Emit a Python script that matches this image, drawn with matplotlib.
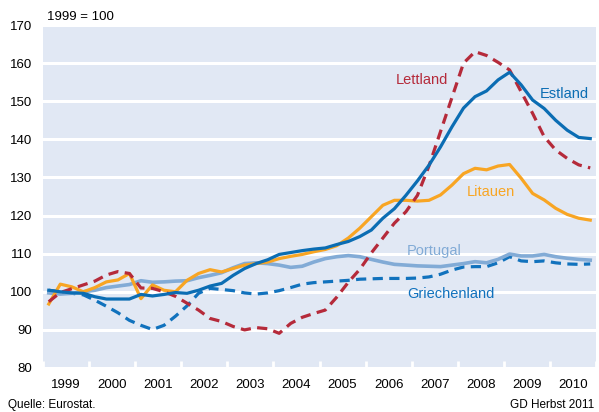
import numpy as np
import matplotlib
matplotlib.use("Agg")
import matplotlib.pyplot as plt

plt.rcParams['font.family'] = ['Liberation Sans', 'DejaVu Sans']

# quarterly index, 1999 = 100 (1999Q1 .. 2010Q4)
years = list(range(1999, 2011))

estland = [100.4, 100.0, 99.7, 99.6, 98.7, 98.1, 98.1, 98.1, 99.3, 98.9, 99.3, 99.8,
           99.6, 100.4, 101.5, 102.2, 104.3, 106.1, 107.4, 108.4, 109.8, 110.3, 110.8, 111.2,
           111.5, 112.4, 113.2, 114.5, 116.2, 119.3, 121.8, 125.3, 129.1, 133.2, 138.0, 143.3,
           148.2, 151.2, 152.7, 155.6, 157.6, 154.3, 150.3, 148.1, 145.0, 142.4, 140.5, 140.2]

lettland = [97.4, 99.8, 100.8, 101.8, 102.8, 104.4, 105.3, 104.8, 101.0, 100.9, 100.0, 98.8,
            97.0, 95.2, 93.0, 92.2, 90.9, 90.0, 90.6, 90.3, 89.1, 91.7, 93.3, 94.3,
            95.2, 98.6, 102.5, 105.9, 110.2, 114.1, 118.0, 121.0, 125.3, 133.0, 142.0, 151.0,
            160.0, 163.0, 162.0, 160.2, 158.2, 152.5, 146.8, 140.7, 137.2, 135.0, 133.3, 132.5]

litauen = [96.8, 102.0, 101.3, 100.0, 101.1, 102.6, 103.1, 104.8, 98.2, 101.8, 100.4, 100.0,
           103.0, 104.8, 105.8, 105.2, 106.1, 107.0, 107.4, 107.8, 108.7, 109.3, 109.8, 110.5,
           111.1, 112.1, 114.1, 116.7, 119.7, 122.7, 124.0, 124.0, 123.8, 124.0, 125.4, 128.0,
           131.0, 132.4, 132.0, 133.0, 133.4, 129.8, 125.8, 124.1, 121.9, 120.3, 119.3, 118.8]

portugal = [99.7, 99.4, 99.6, 100.0, 100.4, 101.1, 101.5, 101.9, 102.9, 102.5, 102.6, 102.8,
            102.9, 103.7, 104.3, 105.0, 106.3, 107.4, 107.6, 107.4, 107.0, 106.4, 106.7, 107.8,
            108.7, 109.2, 109.5, 109.2, 108.5, 107.8, 107.2, 107.0, 106.8, 106.7, 106.6, 107.0,
            107.4, 107.9, 107.6, 108.5, 109.9, 109.4, 109.4, 109.8, 109.2, 108.8, 108.5, 108.3]

griechenland = [100.4, 100.0, 99.6, 99.2, 97.8, 96.2, 94.5, 92.5, 91.2, 90.1, 91.2, 93.6,
                96.3, 99.6, 100.9, 100.6, 100.3, 99.7, 99.4, 99.7, 100.3, 101.1, 102.0, 102.4,
                102.6, 102.8, 103.0, 103.3, 103.4, 103.5, 103.5, 103.5, 103.6, 103.9, 104.6, 105.7,
                106.5, 106.6, 106.6, 107.6, 109.2, 108.1, 107.9, 108.1, 107.6, 107.3, 107.2, 107.3]

# quarter midpoints on a year axis
n = len(estland)
x = years[0] + (np.arange(n) + 0.5) / 4

c_est = '#0b6db3'
c_let = '#b52a3a'
c_lit = '#f8a523'
c_por = '#82abd6'
c_gri = '#1172bd'

fig = plt.figure(figsize=(5.99, 4.12), dpi=100)
ax = fig.add_axes([0.0718, 0.1068, 0.9232, 0.8325])
ax.set_facecolor('#e1e8f4')

ax.set_ylim(80, 170)
ax.set_xlim(years[0], years[-1] + 1)
ax.set_yticks(range(80, 171, 10))
ax.grid(axis='y', color='white', linewidth=2.2)
ax.set_axisbelow(True)
for s in ax.spines.values():
    s.set_visible(False)

lw = 2.3
ax.plot(x, griechenland, color=c_gri, lw=lw, dashes=(3.2, 2.0))
ax.plot(x, portugal, color=c_por, lw=lw + 0.3)
ax.plot(x, litauen, color=c_lit, lw=lw)
ax.plot(x, lettland, color=c_let, lw=lw, dashes=(3.2, 2.0))
ax.plot(x, estland, color=c_est, lw=lw)

# year boundaries as ticks, year names centred between them
ax.set_xticks([y for y in years] + [years[-1] + 1])
ax.set_xticklabels([])
ax.set_xticks([y + 0.5 for y in years], minor=True)
ax.set_xticklabels([str(y) for y in years], minor=True, fontsize=9.5)
ax.tick_params(axis='x', which='major', direction='in', length=5, width=2, color='white')
ax.tick_params(axis='x', which='minor', length=0, pad=8)
ax.tick_params(axis='y', length=0, labelsize=9.5, pad=8)

lab = dict(fontsize=10.5, va='center')
ax.text(2006.65, 155.6, 'Lettland', color=c_let, ha='left', **lab)
ax.text(2009.78, 151.8, 'Estland', color=c_est, ha='left', **lab)
ax.text(2008.2, 126.2, 'Litauen', color=c_lit, ha='left', **lab)
ax.text(2006.89, 110.8, 'Portugal', color=c_por, ha='left', **lab)
ax.text(2006.9, 99.4, 'Griechenland', color=c_gri, ha='left', **lab)

fig.text(0.079, 0.958, '1999 = 100', fontsize=9.5, va='center', ha='left')
fig.text(0.013, 0.018, 'Quelle: Eurostat.', fontsize=8.5, ha='left', va='center')
fig.text(0.992, 0.018, 'GD Herbst 2011', fontsize=8.5, ha='right', va='center')

fig.savefig('out.png', dpi=100)
